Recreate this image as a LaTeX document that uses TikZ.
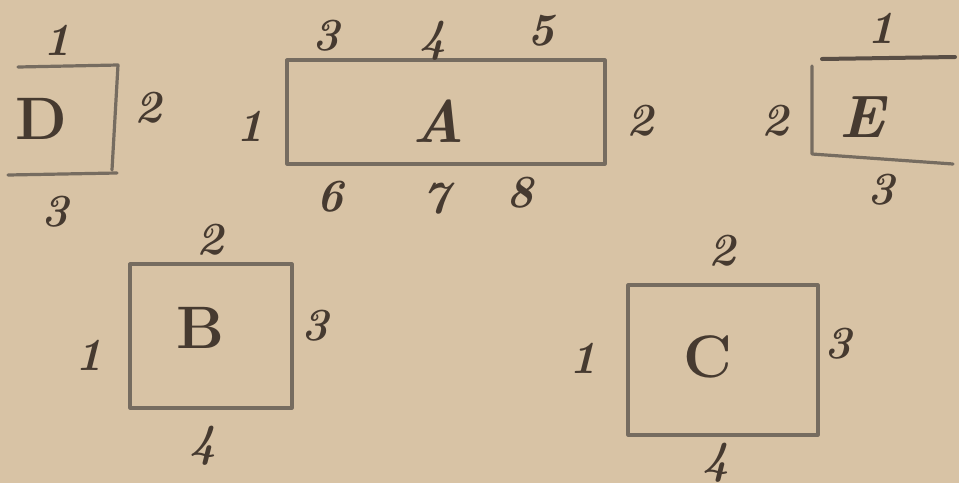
\documentclass[tikz,border=0pt]{standalone}
\definecolor{paper}{RGB}{216,195,165}
\definecolor{pencil}{RGB}{118,108,96}
\definecolor{ink}{RGB}{70,58,48}
\tikzset{
  num/.style={text=ink, font=\fontsize{46}{50}\selectfont\bfseries\itshape, inner sep=0pt},
  letterup/.style={text=ink, font=\fontsize{60}{64}\selectfont\bfseries, inner sep=0pt},
  letterit/.style={text=ink, font=\fontsize{60}{64}\selectfont\bfseries\itshape, inner sep=0pt},
  edge/.style={draw=pencil, line width=3.2pt, line cap=round, line join=round},
  boxrect/.style={edge, rectangle, inner sep=0pt},
}
\begin{document}
\begin{tikzpicture}[x=1pt,y=-1pt]
\fill[paper] (0,0) rectangle (959,483);
\useasboundingbox (0,0) rectangle (959,483);

% ---- D (open on the left)
\coordinate (dtl) at (18,67);
\coordinate (dtr) at (118,65);
\coordinate (dbr) at (112,170);
\coordinate (dbrr) at (117,173);
\coordinate (dbl) at (8,175);
\draw[edge] (dtl) -- (dtr) -- (dbr);
\draw[edge] (dbl) -- (dbrr);
\node[letterup] (D) at (41,119) {D};
\node[num] (d1) at (57,40) {1};
\node[num] (d2) at (148,108) {2};
\node[num] (d3) at (55,212) {3};

% ---- A
\node[boxrect, minimum width=318pt, minimum height=104pt] (A) at (446,112) {};
\node[letterit] (Alab) at (438,121) {A};
\node[num] (a1) at (250,126) {1};
\node[num] (a2) at (640,121) {2};
\node[num] (a3) at (326,36) {3};
\node[num] (a4) at (433,41) {4};
\node[num] (a5) at (541,31) {5};
\node[num] (a6) at (330,197) {6};
\node[num] (a7) at (436,199) {7};
\node[num] (a8) at (520,193) {8};

% ---- E (open on the right)
\coordinate (etl) at (822,59);
\coordinate (etr) at (955,57);
\coordinate (elt) at (812,66);
\coordinate (elb) at (812,154);
\coordinate (ebr) at (953,164);
\draw[edge, draw=ink!90, line width=4pt] (etl) -- (etr);
\draw[edge] (elt) -- (elb) -- (ebr);
\node[letterit] (Elab) at (862,117) {E};
\node[num] (e1) at (881,28) {1};
\node[num] (e2) at (775,121) {2};
\node[num] (e3) at (881,190) {3};

% ---- B
\node[boxrect, minimum width=162pt, minimum height=144pt] (B) at (211,336) {};
\node[letterup] (Blab) at (200,328) {B};
\node[num] (b1) at (89,355) {1};
\node[num] (b2) at (210,240) {2};
\node[num] (b3) at (315,326) {3};
\node[num] (b4) at (203,446) {4};

% ---- C
\node[boxrect, minimum width=190pt, minimum height=150pt] (C) at (723,360) {};
\node[letterup] (Clab) at (708,357) {C};
\node[num] (c1) at (583,358) {1};
\node[num] (c2) at (722,251) {2};
\node[num] (c3) at (838,344) {3};
\node[num] (c4) at (716,463) {4};
\end{tikzpicture}
\end{document}
